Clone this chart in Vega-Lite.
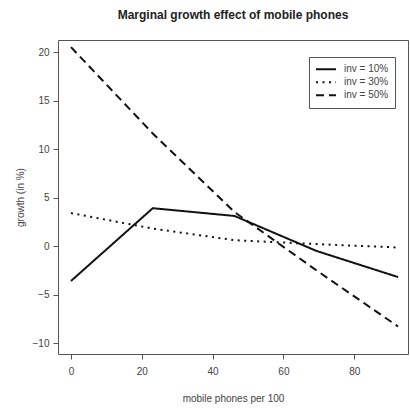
{
  "$schema": "https://vega.github.io/schema/vega-lite/v6.json",
  "width": 350,
  "height": 314,
  "autosize": "none",
  "padding": {"left": 58, "top": 40, "right": 2, "bottom": 54},
  "background": "white",
  "title": {
    "text": "Marginal growth effect of mobile phones",
    "fontSize": 12,
    "fontWeight": "bold",
    "color": "#222",
    "anchor": "middle",
    "baseline": "alphabetic",
    "offset": 9
  },
  "config": {
    "font": "Liberation Sans",
    "view": {"stroke": "#555", "strokeWidth": 1},
    "axis": {
      "domain": false,
      "grid": false,
      "tickColor": "#555",
      "tickSize": 5,
      "labelFontSize": 10,
      "labelColor": "#444",
      "titleFontSize": 10,
      "titleFontWeight": "normal",
      "titleColor": "#444"
    }
  },
  "data": {
    "values": [
      {"phones": 0, "growth": -3.6, "inv": "inv = 10%"},
      {"phones": 23.1, "growth": 3.9, "inv": "inv = 10%"},
      {"phones": 46.2, "growth": 3.1, "inv": "inv = 10%"},
      {"phones": 69.3, "growth": -0.5, "inv": "inv = 10%"},
      {"phones": 92.4, "growth": -3.2, "inv": "inv = 10%"},
      {"phones": 0, "growth": 3.4, "inv": "inv = 30%"},
      {"phones": 23.1, "growth": 1.8, "inv": "inv = 30%"},
      {"phones": 46.2, "growth": 0.6, "inv": "inv = 30%"},
      {"phones": 69.3, "growth": 0.2, "inv": "inv = 30%"},
      {"phones": 92.4, "growth": -0.15, "inv": "inv = 30%"},
      {"phones": 0, "growth": 20.5, "inv": "inv = 50%"},
      {"phones": 23.1, "growth": 11.6, "inv": "inv = 50%"},
      {"phones": 46.2, "growth": 3.5, "inv": "inv = 50%"},
      {"phones": 69.3, "growth": -2.5, "inv": "inv = 50%"},
      {"phones": 92.4, "growth": -8.3, "inv": "inv = 50%"}
    ]
  },
  "mark": {"type": "line", "strokeWidth": 2, "color": "#111", "strokeCap": "butt"},
  "encoding": {
    "x": {
      "field": "phones",
      "type": "quantitative",
      "scale": {"domain": [-3.67, 95.2], "nice": false, "zero": false},
      "axis": {"values": [0, 20, 40, 60, 80], "title": "mobile phones per 100", "labelPadding": 7, "titlePadding": 17}
    },
    "y": {
      "field": "growth",
      "type": "quantitative",
      "scale": {"domain": [-11.13, 21.24], "nice": false, "zero": false},
      "axis": {"values": [-10, -5, 0, 5, 10, 15, 20], "title": "growth (in %)", "labelPadding": 4, "titlePadding": 7}
    },
    "strokeDash": {
      "field": "inv",
      "type": "nominal",
      "scale": {
        "domain": ["inv = 10%", "inv = 30%", "inv = 50%"],
        "range": [[1, 0], [2, 4.5], [8, 5]]
      },
      "legend": {
        "title": null,
        "orient": "none",
        "legendX": 251,
        "legendY": 17,
        "padding": 6,
        "strokeColor": "#555",
        "fillColor": "white",
        "symbolType": "stroke",
        "symbolSize": 400,
        "symbolStrokeWidth": 2,
        "symbolStrokeColor": "#111",
        "clipHeight": 12.7,
        "rowPadding": 0,
        "labelOffset": 7,
        "labelFontSize": 10,
        "labelColor": "#444"
      }
    }
  }
}
